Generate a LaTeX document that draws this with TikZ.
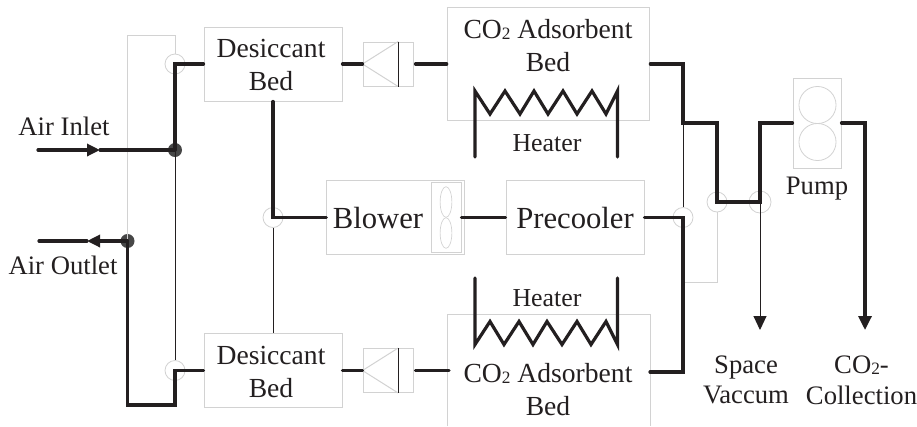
\documentclass[tikz,border=0pt]{standalone}
\usepackage{fontspec}
\setmainfont{Liberation Serif}
\usetikzlibrary{arrows.meta}
\definecolor{inkc}{HTML}{231F20}
\definecolor{boxc}{HTML}{D2D2D2}
\newcommand{\cotwo}{CO\raisebox{-0.5pt}{\fontsize{13}{13}\selectfont 2}}
\tikzset{
    compbox/.style={draw=boxc, line width=0.75pt, rectangle, inner sep=0pt, minimum width=#1},
    port/.style={draw=boxc, line width=0.6pt, circle, inner sep=0pt, minimum size=15pt},
    junct/.style={fill=black!72, circle, inner sep=0pt, minimum size=10.5pt},
    flow/.style={color=inkc, line width=2.4pt, line cap=round, line join=miter},
    signal/.style={color=inkc, line width=0.75pt},
    shell/.style={color=boxc, line width=0.75pt},
    lab/.style={color=inkc, align=center, font=\fontsize{20.7}{24.75}\selectfont},
    biglab/.style={color=inkc, font=\fontsize{23}{28}\selectfont}
}
\begin{document}
\begin{tikzpicture}[x=0.75pt, y=-0.75pt]
        \useasboundingbox (0,0) rectangle (917,426);
        % components
        \node[compbox=103.5pt, minimum height=55.5pt] (bedA) at (273,64) {};
        \node[compbox=103.5pt, minimum height=55.5pt] (bedB) at (273,370.5) {};
        \node[compbox=37.5pt, minimum height=33pt] (valveA) at (388,64) {};
        \node[compbox=37.5pt, minimum height=33pt] (valveB) at (388,370.5) {};
        \node[compbox=152pt, minimum height=85pt] (adsA) at (548.5,64) {};
        \node[compbox=103pt, minimum height=55.5pt] (blower) at (395.5,217.5) {};
        \node[compbox=22.5pt, minimum height=52pt] (fan) at (446,217.5) {};
        \node[compbox=103.5pt, minimum height=55.5pt] (precool) at (575,217.5) {};
        \node[compbox=36pt, minimum height=67.5pt] (pump) at (817,123) {};
        \draw[shell] (447,426) |- (650,314) -- (650,426);
        \coordinate (adsBw) at (449,370.5);
        \coordinate (adsBe) at (650,372);

        % valves, fan and pump parts
        \foreach \v in {valveA, valveB} {
            \draw[shell] (\v.west) -- ([xshift=-11.5pt]\v.north east) ([xshift=-11.5pt]\v.south east) -- (\v.west);
            \draw[signal] ([xshift=-11.5pt]\v.north east) -- ([xshift=-11.5pt]\v.south east);
        }
        \draw[shell, line width=0.5pt] (446,202) ellipse (4.4pt and 11.5pt);
        \draw[shell, line width=0.5pt] (446,233) ellipse (4.4pt and 11.5pt);
        \draw[shell, line width=0.6pt] (817.5,105) circle (13.9pt);
        \draw[shell, line width=0.6pt] (817.5,142) circle (13.9pt);

        % junctions
        \node[port] (portA) at (175,64) {};
        \node[port] (portB) at (175,370.5) {};
        \node[port] (portC) at (273,217.5) {};
        \node[port] (portD) at (683,217.5) {};
        \node[port] (portE) at (717,202) {};
        \node[port, minimum size=16.5pt] (portF) at (760,202) {};
        \node[junct] (dotIn) at (175,150) {};
        \node[junct] (dotOut) at (127.5,241) {};

        \coordinate (inS) at (38,150);
        \coordinate (inM) at (100,150);
        \coordinate (outS) at (39,241);
        \coordinate (outM) at (87,241);
        \coordinate (loopL) at (127.5,405);
        \coordinate (loopR) at (175,405);
        \coordinate (topT) at (683,64);
        \coordinate (topB) at (683,123);
        \coordinate (vacEnd) at (760,330);
        \coordinate (colEnd) at (865,330);
        \coordinate (pumpOut) at (865,123);
        \coordinate (retC) at (683,372);
        \coordinate (retA) at (683,282);
        \coordinate (retB) at (717,282);
        \coordinate (shellTL) at (127.5,35);

        % gray frames
        \draw[shell] (dotOut.center) -- (shellTL) -| (portA.north);
        \draw[shell] (portE.south) -- (retB) -- (retA);

        % thin lines
        \draw[signal] (dotIn.center) -- (portB.north);
        \draw[signal] (portC.south) -- (bedB.north);
        \draw[signal] (topB) -- (portD.north);
        \draw[signal, -{Triangle[length=10.5pt, width=9.75pt]}] (portF.center) -- (vacEnd);

        % thick lines
        \draw[flow, -{Triangle[length=9.75pt, width=9pt]}] (inS) -- (inM);
        \draw[flow] (inM) -- (dotIn.center);
        \draw[flow] (bedA.west) -- (portA.center) -- (dotIn.center);
        \draw[flow, -{Triangle[length=9.75pt, width=9pt]}] (dotOut.center) -- (outM);
        \draw[flow] (outM) -- (outS);
        \draw[flow] (dotOut.center) -- (loopL) -- (loopR) -- (portB.center) -- (bedB.west);
        \draw[flow] (bedA.south) -- (portC.center) -- (blower.west);
        \draw[flow] (bedA.east) -- (valveA.west);
        \draw[flow, shorten <=1.5pt] (valveA.east) -- (adsA.west);
        \draw[flow] (bedB.east) -- (valveB.west);
        \draw[flow, shorten <=1.5pt] (valveB.east) -- (adsBw);
        \draw[flow] (fan.east) -- (precool.west);
        \draw[flow] (adsA.east) -- (topT) -- (topB) -| (portE.center) -- (portF.center) |- (pump.west);
        \draw[flow] (precool.east) -- (portD.center) -- (retC) -- (adsBe);
        \draw[flow, -{Triangle[length=10.5pt, width=9.75pt]}] (pump.east) -- (pumpOut) -- (colEnd);

        % heaters
        \draw[flow] (475,157) -- (475,91) -- (490,114) -- (505,91) -- (520,114) -- (534,91) -- (548,114) -- (563,91) -- (577,114) -- (592,91) -- (606,114) -- (617.5,91) -- (617.5,157);
        \draw[flow] (475,278) -- (475,344.5) -- (490,321.5) -- (504,344.5) -- (519,321.5) -- (533,344.5) -- (547,321.5) -- (562,344.5) -- (577,321.5) -- (591,344.5) -- (606,321.5) -- (617.5,344.5) -- (617.5,278);

        % labels
        \node[lab] (bedAtxt) at (271,65) {Desiccant\\Bed};
        \node[lab] (bedBtxt) at (271,372) {Desiccant\\Bed};
        \node[lab] (adsAtxt) at (548,46) {\cotwo{} Adsorbent\\Bed};
        \node[lab] (adsBtxt) at (548,390) {\cotwo{} Adsorbent\\Bed};
        \node[lab, font=\fontsize{19.4}{24}\selectfont] (heatA) at (547,143) {Heater};
        \node[lab, font=\fontsize{19.4}{24}\selectfont] (heatB) at (547,298) {Heater};
        \node[biglab] (blowTxt) at (378,218) {Blower};
        \node[biglab] (preTxt) at (575,218) {Precooler};
        \node[lab, font=\fontsize{20}{24}\selectfont] (inTxt) at (64,126) {Air Inlet};
        \node[lab, font=\fontsize{20}{24}\selectfont] (outTxt) at (63,265) {Air Outlet};
        \node[lab, font=\fontsize{20}{24}\selectfont] (pumpTxt) at (817,189) {Pump};
        \node[lab, font=\fontsize{20}{23}\selectfont] (vacTxt) at (746,380) {Space\\Vaccum};
        \node[lab, font=\fontsize{20}{23}\selectfont] (colTxt) at (861.5,380) {\cotwo{}-\\Collection};
    \end{tikzpicture}
\end{document}
